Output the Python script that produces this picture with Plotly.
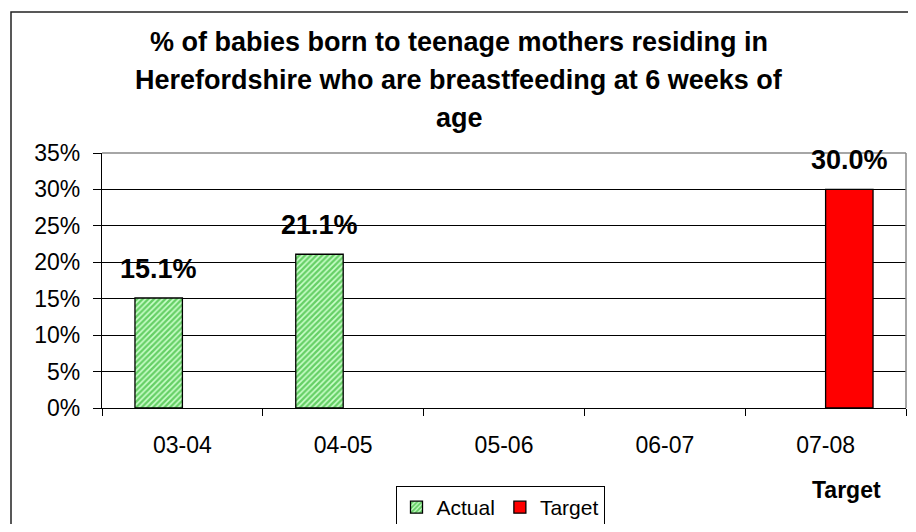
import plotly.graph_objects as go

categories = ["03-04", "04-05", "05-06", "06-07", "07-08"]
actual = [15.1, 21.1, None, None, None]
target = [None, None, None, None, 30.0]
y_ticks = [0, 5, 10, 15, 20, 25, 30, 35]
y_tick_labels = [f"{v}%" for v in y_ticks]

title_lines = ["% of babies born to teenage mothers residing in",
               "Herefordshire who are breastfeeding at 6 weeks of",
               "age"]

FONT = "Arial, 'Liberation Sans', sans-serif"

# The page body has an 8px margin, so the figure is drawn 8px in from the window edge.
OFF = 8
W, H = 916 - 2 * OFF, 532 - 2 * OFF
# plot-area geometry in window pixels
L, R, T, B = 102, 906, 153, 408
def px_x(px):
    return (px - L) / (R - L)
def px_y(py):
    return (B - py) / (B - T)

fig = go.Figure()
fig.add_trace(go.Bar(
    x=categories, y=actual, name="Actual",
    marker=dict(color="#ccffcc",
                line=dict(color="black", width=1.3),
                pattern=dict(shape="/", fgcolor="#00a000", bgcolor="#ccffcc",
                             size=4, solidity=0.6)),
))
fig.add_trace(go.Bar(
    x=categories, y=target, name="Target",
    marker=dict(color="#ff0000", line=dict(color="black", width=1.3)),
))

BAR_HALF = 23.5
annotations = []
for c, v in zip(categories, actual):
    if v is not None:
        annotations.append(dict(x=c, y=v, xref="x", yref="y", text=f"<b>{v:.1f}%</b>",
                                showarrow=False, xshift=-BAR_HALF, yshift=29,
                                yanchor="middle",
                                font=dict(family=FONT, size=27, color="black")))
for c, v in zip(categories, target):
    if v is not None:
        annotations.append(dict(x=c, y=v, xref="x", yref="y", text=f"<b>{v:.1f}%</b>",
                                showarrow=False, xshift=BAR_HALF, yshift=29,
                                yanchor="middle",
                                font=dict(family=FONT, size=27, color="black")))
# title lines
for line, yc in zip(title_lines, [42, 80, 118]):
    annotations.append(dict(x=px_x(459), y=px_y(yc), xref="paper", yref="paper",
                            text=f"<b>{line}</b>", showarrow=False,
                            xanchor="center", yanchor="middle",
                            font=dict(family=FONT, size=27, color="black")))
annotations.append(dict(x=px_x(883), y=px_y(490), xref="paper", yref="paper",
                        text="<b>Target</b>", showarrow=False, xanchor="right",
                        yanchor="middle",
                        font=dict(family=FONT, size=23, color="black")))

fig.update_layout(
    width=W, height=H,
    margin=dict(l=L - OFF, r=(W + OFF) - R, t=T - OFF, b=(H + OFF) - B, pad=0,
                autoexpand=False),
    paper_bgcolor="white", plot_bgcolor="white",
    barmode="group", bargap=0.41, bargroupgap=0,
    font=dict(family=FONT, size=23, color="black"),
    showlegend=True,
    legend=dict(orientation="h", x=px_x(500), xanchor="center", y=px_y(486), yanchor="top",
                bordercolor="black", borderwidth=1, bgcolor="white",
                font=dict(family=FONT, size=21, color="black")),
    annotations=annotations,
    shapes=[
        # gray plot-area border (top and right)
        dict(type="line", xref="x domain", yref="y domain", x0=0, x1=1, y0=1, y1=1,
             line=dict(color="#888888", width=1.5), layer="above"),
        dict(type="line", xref="x domain", yref="y domain", x0=1, x1=1, y0=0, y1=1,
             line=dict(color="#888888", width=1.5), layer="above"),
        # outer chart frame (right and bottom edges fall outside the picture)
        dict(type="rect", xref="paper", yref="paper",
             x0=px_x(11), x1=px_x(960), y0=px_y(580), y1=px_y(12),
             line=dict(color="#222222", width=1.5), layer="above"),
    ],
)

fig.update_xaxes(
    type="category", tickson="boundaries", ticks="outside", ticklen=7,
    tickcolor="black", tickwidth=1, showline=True, linecolor="black", linewidth=1.3,
    showgrid=False, ticklabelstandoff=16,
    tickfont=dict(family=FONT, size=23, color="black"),
)
fig.update_yaxes(
    range=[0, 35], tickvals=y_ticks, ticktext=y_tick_labels, ticks="outside", ticklen=8,
    tickcolor="black", tickwidth=1, showline=True, linecolor="black", linewidth=1.3,
    showgrid=True, gridcolor="black", gridwidth=1, zeroline=False,
    ticklabelstandoff=8,
    tickfont=dict(family=FONT, size=23, color="black"),
)

fig.write_html("out.html")
